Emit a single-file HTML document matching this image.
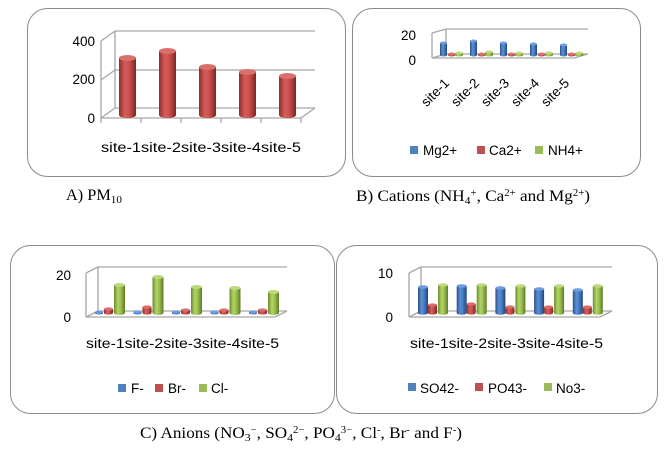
<!DOCTYPE html>
<html><head><meta charset="utf-8">
<style>
html,body{margin:0;padding:0;background:#fff;}
svg{display:block;}
.t{font-family:"Liberation Sans",sans-serif;font-size:13.5px;fill:#000;}
.c{font-family:"Liberation Serif",serif;font-size:16px;fill:#000;}
</style></head><body>
<svg id="s" width="667" height="455" xmlns="http://www.w3.org/2000/svg">
<defs>
<linearGradient id="gr" x1="0" x2="1"><stop offset="0" stop-color="#8e2d2b"/><stop offset="0.35" stop-color="#d65d5a"/><stop offset="0.6" stop-color="#c9504d"/><stop offset="1" stop-color="#7e2523"/></linearGradient>
<linearGradient id="gb" x1="0" x2="1"><stop offset="0" stop-color="#284f86"/><stop offset="0.35" stop-color="#5b8fd3"/><stop offset="0.6" stop-color="#4b7ec4"/><stop offset="1" stop-color="#21457a"/></linearGradient>
<linearGradient id="gg" x1="0" x2="1"><stop offset="0" stop-color="#6b8a2c"/><stop offset="0.35" stop-color="#b2d366"/><stop offset="0.6" stop-color="#9fc152"/><stop offset="1" stop-color="#5e7b24"/></linearGradient>
</defs>
<g fill="none" stroke="#8c8c8c" stroke-width="1">
<rect x="27.5" y="8.5" width="318" height="168" rx="20"/>
<rect x="352.5" y="8.5" width="288" height="168" rx="20"/>
<rect x="10.5" y="245.5" width="324" height="168" rx="20"/>
<rect x="336.5" y="245.5" width="321" height="168" rx="20"/>
</g>
<g id="frames" stroke="#a6a6a6" stroke-width="1.3" fill="none"></g>
<g id="bars"></g>
<!-- A -->
<text class="t" x="95" y="46" text-anchor="end">400</text>
<text class="t" x="95" y="84" text-anchor="end">200</text>
<text class="t" x="95" y="123" text-anchor="end">0</text>
<text class="t" x="101" y="152" textLength="200" lengthAdjust="spacingAndGlyphs">site-1site-2site-3site-4site-5</text>
<text class="c" x="66" y="200" textLength="56" lengthAdjust="spacingAndGlyphs">A) PM<tspan font-size="11" dy="3">10</tspan></text>
<!-- B -->
<text class="t" x="416" y="40" text-anchor="end">20</text>
<text class="t" x="416" y="65" text-anchor="end">0</text>
<g class="t">
<text transform="translate(450,84) rotate(-45)" text-anchor="end">site-1</text>
<text transform="translate(480,84) rotate(-45)" text-anchor="end">site-2</text>
<text transform="translate(510,84) rotate(-45)" text-anchor="end">site-3</text>
<text transform="translate(540,84) rotate(-45)" text-anchor="end">site-4</text>
<text transform="translate(570,84) rotate(-45)" text-anchor="end">site-5</text>
</g>
<rect x="410" y="146" width="8" height="8" fill="#4f81bd"/><text class="t" x="423" y="155">Mg2+</text>
<rect x="477" y="146" width="8" height="8" fill="#c0504d"/><text class="t" x="489" y="155">Ca2+</text>
<rect x="535" y="146" width="8" height="8" fill="#9bbb59"/><text class="t" x="548" y="155">NH4+</text>
<text class="c" x="356" y="201" textLength="234" lengthAdjust="spacingAndGlyphs">B) Cations (NH<tspan font-size="11" dy="3">4</tspan><tspan font-size="10" dy="-8">+</tspan><tspan dy="5">, Ca</tspan><tspan font-size="10" dy="-5">2+</tspan><tspan dy="5"> and Mg</tspan><tspan font-size="10" dy="-5">2+</tspan><tspan dy="5">)</tspan></text>
<!-- C -->
<text class="t" x="71" y="280" text-anchor="end">20</text>
<text class="t" x="71" y="322" text-anchor="end">0</text>
<text class="t" x="86" y="348" textLength="193" lengthAdjust="spacingAndGlyphs">site-1site-2site-3site-4site-5</text>
<rect x="118" y="384" width="8" height="8" fill="#4f81bd"/><text class="t" x="131" y="393">F-</text>
<rect x="155" y="384" width="8" height="8" fill="#c0504d"/><text class="t" x="168" y="393">Br-</text>
<rect x="199" y="384" width="8" height="8" fill="#9bbb59"/><text class="t" x="211" y="393">Cl-</text>
<!-- D -->
<text class="t" x="393" y="278" text-anchor="end">10</text>
<text class="t" x="393" y="322" text-anchor="end">0</text>
<text class="t" x="410" y="348" textLength="193" lengthAdjust="spacingAndGlyphs">site-1site-2site-3site-4site-5</text>
<rect x="408" y="383" width="8" height="8" fill="#4f81bd"/><text class="t" x="420" y="393">SO42-</text>
<rect x="475" y="383" width="8" height="8" fill="#c0504d"/><text class="t" x="488" y="393">PO43-</text>
<rect x="544" y="383" width="8" height="8" fill="#9bbb59"/><text class="t" x="556" y="393">No3-</text>
<text class="c" x="140" y="438" textLength="322" lengthAdjust="spacingAndGlyphs">C) Anions (NO<tspan font-size="11" dy="3">3</tspan><tspan font-size="10" dy="-8">−</tspan><tspan dy="5">, SO</tspan><tspan font-size="11" dy="3">4</tspan><tspan font-size="10" dy="-8">2−</tspan><tspan dy="5">, PO</tspan><tspan font-size="11" dy="3">4</tspan><tspan font-size="10" dy="-8">3−</tspan><tspan dy="5">, Cl</tspan><tspan font-size="10" dy="-5">-</tspan><tspan dy="5">, Br</tspan><tspan font-size="10" dy="-5">-</tspan><tspan dy="5"> and F</tspan><tspan font-size="10" dy="-5">-</tspan><tspan dy="5">)</tspan></text>
</svg>
<script>
var NS="http://www.w3.org/2000/svg";
function el(p,n,a){var e=document.createElementNS(NS,n);for(var k in a)e.setAttribute(k,a[k]);p.appendChild(e);return e;}
var F=document.getElementById("frames"),B=document.getElementById("bars");
function frame(x0,x1,yt,yb,dx,dy,grids,ticks,n){
  el(F,"line",{x1:x0,y1:yt,x2:x0,y2:yb});
  el(F,"line",{x1:x0+dx,y1:yt-dy,x2:x0+dx,y2:yb-dy});
  grids.forEach(function(g){el(F,"line",{x1:x0,y1:g,x2:x0+dx,y2:g-dy});el(F,"line",{x1:x0+dx,y1:g-dy,x2:x1+dx,y2:g-dy});});
  el(F,"line",{x1:x0,y1:yb,x2:x1,y2:yb});
  el(F,"line",{x1:x1,y1:yb,x2:x1+dx,y2:yb-dy});
  if(ticks){for(var i=0;i<=n;i++){var x=x0+(x1-x0)*i/n;el(F,"line",{x1:x,y1:yb,x2:x,y2:yb+5});}}
}
frame(101,301,41,118,14,10,[41,80,118],true,5);
frame(432,574,33,58,14,4,[33,58],false,5);
frame(86,275,273,317,12,6,[273,317],false,5);
frame(409,600,273,317,12,6,[273,317],false,5);
function cyl(x,w,top,bot,g){
  var rx=w/2,ry=Math.max(1.5,w*0.18);
  el(B,"ellipse",{cx:x+rx,cy:bot,rx:rx,ry:ry,fill:"url(#"+g+")"});
  el(B,"rect",{x:x,y:top,width:w,height:Math.max(0,bot-top),fill:"url(#"+g+")"});
  var c={gr:"#d9706d",gb:"#6f9be0",gg:"#bcd97e"}[g];
  el(B,"ellipse",{cx:x+rx,cy:top,rx:rx,ry:ry,fill:c});
}
[58,51,67,72,76].forEach(function(t,i){cyl(119+40*i,17,t,115,"gr");});
var mg=[43,41,43,44,45];
for(var i=0;i<5;i++){var b=440+30*i;cyl(b,7,mg[i],55,"gb");cyl(b+8,7,54,55,"gr");cyl(b+15,8,i==1?52:53,55,"gg");}
var cl=[285,277,287,288,292],br=[309,307,310,310,310];
for(var i=0;i<5;i++){var b=95+38.5*i;cyl(b,8,312,313,"gb");cyl(b+9,9,br[i],313,"gr");cyl(b+19,11,cl[i],313,"gg");}
var so=[287,286,288,289,290],po=[305,304,307,307,307],no=[285,285,286,286,286];
for(var i=0;i<5;i++){var b=418+38.7*i;cyl(b,10,so[i],313,"gb");cyl(b+10,9,po[i],313,"gr");cyl(b+20,10,no[i],313,"gg");}
</script>
</body></html>
